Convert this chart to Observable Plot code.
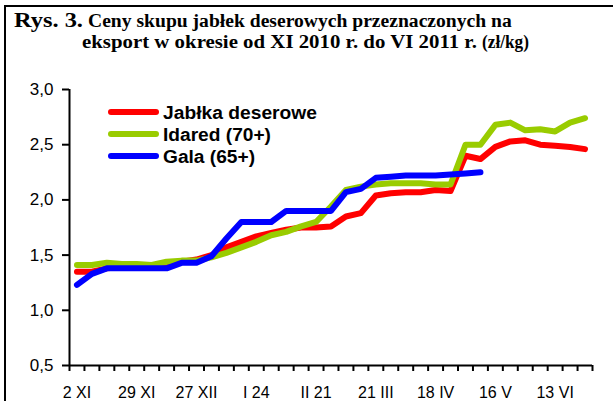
<!DOCTYPE html>
<html><head><meta charset="utf-8">
<script src="https://cdn.jsdelivr.net/npm/d3@7"></script>
<script src="https://cdn.jsdelivr.net/npm/@observablehq/plot@0.6"></script>
<style>
body{margin:0;background:#fff;}
#wrap{position:relative;width:613px;height:401px;overflow:hidden;background:#fff;}
#frame{position:absolute;left:4px;top:5px;width:700px;height:500px;border-left:2px solid #000;border-top:2px solid #000;box-sizing:border-box;}
#titleSvg{position:absolute;left:0;top:0;}
#chart{position:absolute;left:0;top:70px;}
#legend{position:absolute;left:0;top:0;pointer-events:none;}
</style></head>
<body><div id="wrap"><div id="frame"></div><div id="chart"></div></div>
<script>
// tick labels (every 4th weekly quotation)
const tickLabels = ["2 XI","29 XI","27 XII","I 24","II 21","21 III","18 IV","16 V","13 VI"];
const tickIndex = [0,4,8,12,16,20,24,28,32];
const nWeeks = 35;
// series values (zł/kg)
const jablka = [1.35,1.35,1.38,1.39,1.39, 1.39,1.41,1.44,1.46,1.50, 1.57,1.62,1.67,1.70,1.73, 1.75,1.75,1.76,1.85,1.88, 2.04,2.06,2.07,2.07,2.09, 2.08,2.40,2.37,2.48,2.53, 2.54,2.50,2.49,2.48,2.46];
const idared = [1.41,1.41,1.43,1.42,1.42, 1.41,1.44,1.45,1.45,1.48, 1.52,1.57,1.62,1.68,1.71, 1.76,1.80,1.94,2.09,2.12, 2.14,2.15,2.15,2.15,2.14, 2.14,2.50,2.50,2.68,2.70, 2.63,2.64,2.62,2.70,2.74];
const gala = [1.23,1.33,1.38,1.38,1.38, 1.38,1.38,1.43,1.43,1.49, 1.65,1.80,1.80,1.80,1.90, 1.90,1.90,1.90,2.07,2.10, 2.20,2.21,2.22,2.22,2.22, 2.23,2.24,2.25];
const seriesNames = ["Jabłka deserowe","Idared (70+)","Gala (65+)"];
const seriesColors = ["#ff0000","#99cc00","#0000ff"];
const yTicks = [0.5,1.0,1.5,2.0,2.5,3.0];
const titleLine1a = "Rys. 3.";
const titleLine1b = "Ceny skupu jabłek deserowych przeznaczonych na";
const titleLine2a = "eksport w okresie od XI 2010 r. do VI 2011 r.";
const titleLine2b = "(zł/kg)";

const allSeries = [jablka, idared, gala];
const toRows = (vals) => vals.map((v,i)=>({i, v}));
const fmt = d => d.toFixed(1).replace(".", ",");
const boundaries = d3.range(nWeeks + 1).map(i => i - 0.5);

const chart = Plot.plot({
  width: 613, height: 331,
  marginLeft: 69, marginRight: 21, marginTop: 19, marginBottom: 36,
  x: {type: "linear", domain: [-0.5, nWeeks - 0.5]},
  y: {domain: [0.5, 3.0]},
  style: {fontFamily: "'Liberation Sans', Arial, sans-serif", fontSize: "16px", color: "#000", background: "transparent", overflow: "visible"},
  marks: [
    Plot.axisY({ticks: yTicks, tickFormat: fmt, tickSize: 7, tickPadding: 9, strokeWidth: 2, label: null, fontSize: 17}),
    Plot.axisX({ticks: boundaries, tickFormat: () => "", tickSize: 6, strokeWidth: 2, label: null}),
    Plot.axisX({ticks: tickIndex, tickFormat: (d) => tickLabels[tickIndex.indexOf(d)], tickSize: 0, tickPadding: 21, label: null, fontSize: 16}),
    Plot.ruleX([-0.5], {strokeWidth: 2}),
    Plot.ruleY([0.5], {strokeWidth: 2}),
    ...allSeries.map((s, k) => Plot.line(toRows(s), {x: "i", y: "v", stroke: seriesColors[k], strokeWidth: 6, strokeLinecap: "round", strokeLinejoin: "round"}))
  ]
});
document.getElementById("chart").appendChild(chart);

// title (glyphs stretched horizontally to the reference widths)
const wrap = document.getElementById("wrap");
const tsvg = d3.select(wrap).append("svg").attr("id","titleSvg").attr("width",613).attr("height",70);
const serif = "'Liberation Serif','Times New Roman',serif";
const addT = (txt, x, y, size, len, weight) => {
  const t = tsvg.append("text").attr("x",0).attr("y",0)
    .attr("font-family",serif).attr("font-weight",weight || "bold").attr("font-size",size).text(txt);
  const w = t.node().getComputedTextLength() || len;
  t.attr("transform", `translate(${x},${y}) scale(${len / w},1)`);
};
addT(titleLine1a, 14, 27, 21, 69);
addT(titleLine1b, 88, 27, 19, 424);
addT(titleLine2a, 82, 48, 19, 395);
addT(titleLine2b, 482, 48, 18, 47);

// legend
const lsvg = d3.select(wrap).append("svg").attr("id","legend").attr("width",613).attr("height",401);
const legY = [112, 134, 156];
const legLen = [154, 108, 92];
seriesNames.forEach((name, k) => {
  lsvg.append("line").attr("x1",111).attr("x2",156).attr("y1",legY[k]).attr("y2",legY[k])
    .attr("stroke",seriesColors[k]).attr("stroke-width",6).attr("stroke-linecap","round");
  lsvg.append("text").attr("x",163).attr("y",legY[k]+6.5).attr("font-family","'Liberation Sans',Arial,sans-serif")
    .attr("font-weight","bold").attr("font-size",18).attr("textLength",legLen[k]).attr("lengthAdjust","spacingAndGlyphs").text(name);
});
</script>
</body></html>
